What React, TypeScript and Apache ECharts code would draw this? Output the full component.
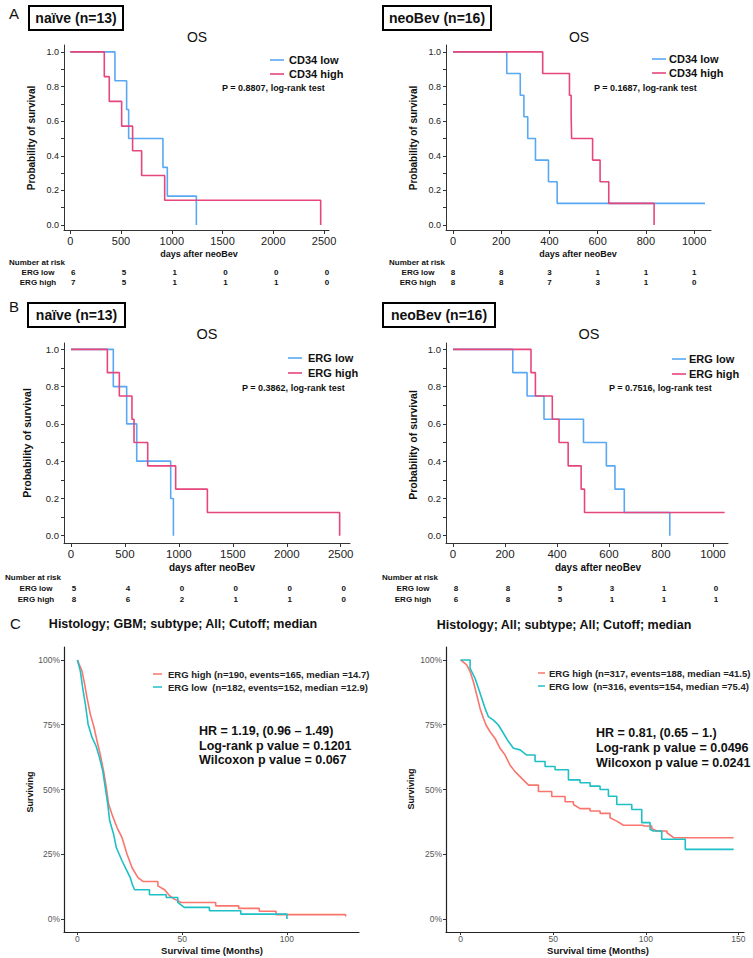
import { useEffect, useRef } from 'react';
import * as echarts from 'echarts';

const FONT = '"Liberation Sans", Arial, Helvetica, sans-serif';
const BLUE = '#58a8f4';
const RED = '#e5467b';
const C_RED = '#f8766d';
const C_TEAL = '#1fbfc6';

// ---------- Panel A (CD34) : Kaplan-Meier steps (days, survival) ----------
const aNaiveLowT = [0, 440, 555, 575, 913, 956, 1242];
const aNaiveLowS = [1, 0.833, 0.667, 0.5, 0.333, 0.167, 0];
const aNaiveHighT = [0, 335, 384, 506, 614, 703, 930, 2467];
const aNaiveHighS = [1, 0.857, 0.714, 0.571, 0.429, 0.286, 0.143, 0];
const aBevLowT = [0, 223, 279, 294, 310, 342, 396, 432, 1045];
const aBevLowS = [1, 0.875, 0.75, 0.625, 0.5, 0.375, 0.25, 0.125, 0.125];
const aBevHighT = [0, 372, 483, 490, 492, 579, 610, 646, 834];
const aBevHighS = [1, 0.875, 0.75, 0.625, 0.5, 0.375, 0.25, 0.125, 0];

// ---------- Panel B (ERG) ----------
const bNaiveLowT = [0, 392, 516, 609, 924, 949];
const bNaiveLowS = [1, 0.8, 0.6, 0.4, 0.2, 0];
const bNaiveHighT = [0, 337, 448, 565, 584, 711, 970, 1264, 2490];
const bNaiveHighS = [1, 0.875, 0.75, 0.625, 0.5, 0.375, 0.25, 0.125, 0];
const bBevLowT = [0, 230, 285, 350, 502, 590, 623, 659, 834];
const bBevLowS = [1, 0.875, 0.75, 0.625, 0.5, 0.375, 0.25, 0.125, 0];
const bBevHighT = [0, 300, 317, 382, 408, 443, 493, 506, 1045];
const bBevHighS = [1, 0.875, 0.75, 0.625, 0.5, 0.375, 0.25, 0.125, 0.125];

// ---------- Number at risk ----------
const naiveRiskTimes = [0, 500, 1000, 1500, 2000, 2500];
const bevRiskTimes = [0, 200, 400, 600, 800, 1000];
const aNaiveRiskLow = [6, 5, 1, 0, 0, 0];
const aNaiveRiskHigh = [7, 5, 1, 1, 1, 0];
const aBevRiskLow = [8, 8, 3, 1, 1, 1];
const aBevRiskHigh = [8, 8, 7, 3, 1, 0];
const bNaiveRiskLow = [5, 4, 0, 0, 0, 0];
const bNaiveRiskHigh = [8, 6, 2, 1, 1, 0];
const bBevRiskLow = [8, 8, 5, 3, 1, 0];
const bBevRiskHigh = [6, 8, 5, 1, 1, 1];

// ---------- Panel C (months, % surviving) ----------
const cGbmHighT = [0, 2.2, 3.5, 4.6, 6.2, 7.8, 9.4, 10.9, 12.5, 13.8, 14.9, 16.5, 18.9, 21.3, 23.7, 26.1, 28.9, 31.3, 38.4, 41.6, 44, 46.3, 49.5, 66, 77, 86.8, 94.8, 128];
const cGbmHighS = [100, 95.7, 90.5, 85.4, 78.9, 74.4, 68.6, 63.5, 57.1, 50.7, 44.3, 40.4, 35.3, 31.4, 25, 19.8, 16, 14.5, 12.8, 11.3, 9, 7.7, 6.4, 5.1, 4.1, 3, 1.7, 1.0];
const cGbmLowT = [0, 1.4, 2.5, 3.8, 5.1, 7, 8.9, 10.5, 12.1, 13.3, 14.5, 15.4, 17.3, 18.6, 21.3, 23.7, 25.2, 26.2, 27.3, 34.4, 42.4, 47.9, 51, 63, 78, 100];
const cGbmLowS = [100, 95.7, 89.3, 82.9, 75.2, 70.1, 66.8, 62.4, 57.2, 50.7, 44.3, 37.9, 32.7, 27.5, 22.5, 18.5, 16, 13.4, 11.3, 9.4, 8.3, 6.4, 4.5, 3.2, 1.9, 0];
const cAllHighT = [0, 3.3, 5.1, 6.9, 8.7, 10.5, 12.3, 13.7, 15.9, 18.6, 21.3, 24, 26.7, 29.4, 33, 36.7, 42, 49.2, 56.4, 60.9, 64.5, 69.9, 75.3, 80.7, 84.3, 87.9, 98.7, 103.2, 106, 111.4, 115, 147.4];
const cAllHighS = [100, 98.1, 95.5, 91.6, 86.5, 81.3, 77.5, 74.9, 72.3, 69.7, 65.9, 63.3, 59.4, 56.9, 54.3, 51.7, 49.2, 47.3, 45.3, 44.2, 42.6, 41.7, 40.8, 39.1, 37.8, 36.2, 35.9, 34.9, 34, 33.3, 31.4, 31.4];
const cAllLowT = [0, 5.1, 7.8, 9.6, 11.4, 13.2, 15, 17.7, 20.4, 23.1, 25.8, 28.5, 32.1, 35.7, 40.2, 45.6, 51, 58.2, 64.5, 69.9, 75.3, 79.8, 84.3, 92.4, 97.8, 102.3, 104.1, 108.6, 121.3, 147.4];
const cAllLowS = [100, 96.8, 92.9, 89.1, 85.2, 81.3, 78.1, 76.8, 74.9, 71.7, 68.5, 65.9, 65.3, 63.3, 60.8, 58.9, 57.6, 53.7, 52.6, 51.3, 50, 47.4, 44.2, 42.3, 37.2, 34.6, 34, 30.8, 26.9, 26.9];

// ---------- Tick labels ----------
const naiveTicks = [0, 500, 1000, 1500, 2000, 2500];
const bevTicks = [0, 200, 400, 600, 800, 1000];
const probTicks = [0, 0.1, 0.2, 0.3, 0.4, 0.5, 0.6, 0.7, 0.8, 0.9, 1.0];
const probLabels = [0, 0.2, 0.4, 0.6, 0.8, 1.0];
const survTicks = [0, 25, 50, 75, 100];
const gbmMonthTicks = [0, 50, 100];
const allMonthTicks = [0, 50, 100, 150];

const zip = (t: number[], s: number[]) => t.map((v, i) => [v, s[i]]);

// dense KM curves: consecutive events close together are joined directly,
// long event-free stretches are drawn as a flat run followed by a drop.
const kmPath = (t: number[], s: number[], gap: number) => {
  const pts: number[][] = [[t[0], s[0]]];
  for (let i = 1; i < t.length; i++) {
    if (t[i] - t[i - 1] > gap) pts.push([t[i], s[i - 1]]);
    pts.push([t[i], s[i]]);
  }
  return pts;
};

type Txt = { bold?: boolean; color?: string; align?: string; rot?: number };
const txt = (text: string, x: number, y: number, size: number, o: Txt = {}) => ({
  type: 'text',
  x,
  y,
  rotation: o.rot || 0,
  silent: true,
  style: {
    text,
    fontSize: size,
    fontWeight: o.bold ? 'bold' : 'normal',
    fontFamily: FONT,
    fill: o.color || '#111',
    textAlign: o.align || 'left',
    textVerticalAlign: 'middle',
  },
});
const seg = (x1: number, y1: number, x2: number, y2: number, color: string, w = 1.6) => ({
  type: 'line',
  silent: true,
  shape: { x1, y1, x2, y2 },
  style: { stroke: color, lineWidth: w },
});
const box = (x: number, y: number, w: number, h: number) => ({
  type: 'rect',
  silent: true,
  shape: { x, y, width: w, height: h },
  style: { fill: 'none', stroke: '#000', lineWidth: 2 },
});

export default function App() {
  const ref = useRef<HTMLDivElement>(null);

  useEffect(() => {
    if (!ref.current) return;
    const chart = echarts.init(ref.current, undefined, { renderer: 'svg' });

    const kmPanels = [
      { grid: { left: 64, top: 45, width: 265, height: 185 }, x: [-62, 2549], y: [-0.029, 1.04], ticks: naiveTicks, xf: 11, yf: 9, low: [aNaiveLowT, aNaiveLowS], high: [aNaiveHighT, aNaiveHighS], names: ['CD34 low', 'CD34 high'] },
      { grid: { left: 446, top: 45, width: 265, height: 185 }, x: [-29, 1070], y: [-0.029, 1.04], ticks: bevTicks, xf: 11, yf: 9, low: [aBevLowT, aBevLowS], high: [aBevHighT, aBevHighS], names: ['CD34 low', 'CD34 high'] },
      { grid: { left: 64, top: 343, width: 286, height: 200 }, x: [-65, 2586], y: [-0.039, 1.034], ticks: naiveTicks, xf: 11.5, yf: 9.5, low: [bNaiveLowT, bNaiveLowS], high: [bNaiveHighT, bNaiveHighS], names: ['ERG low', 'ERG high'] },
      { grid: { left: 446, top: 343, width: 282, height: 200 }, x: [-27, 1058], y: [-0.039, 1.034], ticks: bevTicks, xf: 11.5, yf: 9.5, low: [bBevLowT, bBevLowS], high: [bBevHighT, bBevHighS], names: ['ERG low', 'ERG high'] },
    ];
    const cPanels = [
      { grid: { left: 64, top: 647, width: 295, height: 285 }, x: [-6.4, 134.4], ticks: gbmMonthTicks, high: [cGbmHighT, cGbmHighS], low: [cGbmLowT, cGbmLowS] },
      { grid: { left: 446, top: 647, width: 298, height: 285 }, x: [-7.9, 153], ticks: allMonthTicks, high: [cAllHighT, cAllHighS], low: [cAllLowT, cAllLowS] },
    ];

    const grids: any[] = [];
    const xAxes: any[] = [];
    const yAxes: any[] = [];
    const series: any[] = [];

    kmPanels.forEach((p, i) => {
      grids.push({ ...p.grid, containLabel: false });
      xAxes.push({
        type: 'value', gridIndex: i, min: p.x[0], max: p.x[1],
        axisLine: { show: true, onZero: false, lineStyle: { color: '#333', width: 1 } },
        axisTick: { show: true, customValues: p.ticks, length: 4, lineStyle: { color: '#333', width: 1 } },
        axisLabel: { customValues: p.ticks, fontSize: p.xf, color: '#222', fontFamily: FONT, margin: 5, formatter: (v: number) => String(v) },
        splitLine: { show: false },
      });
      yAxes.push({
        type: 'value', gridIndex: i, min: p.y[0], max: p.y[1],
        axisLine: { show: true, onZero: false, lineStyle: { color: '#333', width: 1 } },
        axisTick: { show: true, customValues: probTicks, length: 3, lineStyle: { color: '#333', width: 1 } },
        axisLabel: { customValues: probLabels, fontSize: p.yf, color: '#222', fontFamily: FONT, margin: 5, formatter: (v: number) => v.toFixed(1) },
        splitLine: { show: false },
      });
      series.push({
        name: p.names[0], type: 'line', step: 'end', xAxisIndex: i, yAxisIndex: i,
        data: zip(p.low[0], p.low[1]), showSymbol: false, symbol: 'none',
        lineStyle: { color: BLUE, width: 1.6 }, itemStyle: { color: BLUE }, silent: true,
      });
      series.push({
        name: p.names[1], type: 'line', step: 'end', xAxisIndex: i, yAxisIndex: i,
        data: zip(p.high[0], p.high[1]), showSymbol: false, symbol: 'none',
        lineStyle: { color: RED, width: 1.6 }, itemStyle: { color: RED }, silent: true,
      });
    });

    cPanels.forEach((p, j) => {
      const i = j + 4;
      grids.push({ ...p.grid, containLabel: false });
      xAxes.push({
        type: 'value', gridIndex: i, min: p.x[0], max: p.x[1],
        axisLine: { show: true, onZero: false, lineStyle: { color: '#222', width: 1.2 } },
        axisTick: { show: true, customValues: p.ticks, length: 3, lineStyle: { color: '#333', width: 1 } },
        axisLabel: { customValues: p.ticks, fontSize: 8.5, color: '#555', fontFamily: FONT, margin: 2, formatter: (v: number) => String(v) },
        splitLine: { show: false },
      });
      yAxes.push({
        type: 'value', gridIndex: i, min: -5, max: 105,
        axisLine: { show: true, onZero: false, lineStyle: { color: '#222', width: 1.2 } },
        axisTick: { show: true, customValues: survTicks, length: 3, lineStyle: { color: '#333', width: 1 } },
        axisLabel: { customValues: survTicks, fontSize: 8.5, color: '#555', fontFamily: FONT, margin: 4, formatter: (v: number) => v + '%' },
        splitLine: { show: false },
      });
      series.push({
        name: 'ERG high', type: 'line', xAxisIndex: i, yAxisIndex: i,
        data: kmPath(p.high[0], p.high[1], 3.9), showSymbol: false, symbol: 'none',
        lineStyle: { color: C_RED, width: 1.6 }, itemStyle: { color: C_RED }, silent: true,
      });
      series.push({
        name: 'ERG low', type: 'line', xAxisIndex: i, yAxisIndex: i,
        data: kmPath(p.low[0], p.low[1], 3.9), showSymbol: false, symbol: 'none',
        lineStyle: { color: C_TEAL, width: 1.6 }, itemStyle: { color: C_TEAL }, silent: true,
      });
    });

    chart.setOption({
      animation: false,
      backgroundColor: '#fff',
      grid: grids,
      xAxis: xAxes,
      yAxis: yAxes,
      series,
    });

    const g: any[] = [];
    // panel letters
    g.push(txt('A', 9, 13, 15));
    g.push(txt('B', 9, 306, 15));
    g.push(txt('C', 10, 623, 15));
    // group boxes
    g.push(box(29, 6, 94, 24), txt('naïve (n=13)', 76, 18, 14, { bold: true, align: 'center' }));
    g.push(box(383, 6, 108, 24), txt('neoBev (n=16)', 437, 18, 14, { bold: true, align: 'center' }));
    g.push(box(28, 303, 97, 24), txt('naïve (n=13)', 76.5, 315, 14, { bold: true, align: 'center' }));
    g.push(box(383, 303, 112, 24), txt('neoBev (n=16)', 439, 315, 14, { bold: true, align: 'center' }));
    // OS titles
    g.push(txt('OS', 197, 37, 14, { align: 'center' }));
    g.push(txt('OS', 579, 37, 14, { align: 'center' }));
    g.push(txt('OS', 207, 334, 14.5, { align: 'center' }));
    g.push(txt('OS', 589, 334, 14.5, { align: 'center' }));

    // KM legends + p values
    const legs = [
      { lx: 270, tx: 289, y1: 60, y2: 74, n: ['CD34 low', 'CD34 high'], p: 'P = 0.8807, log-rank test', px: 222, py: 88 },
      { lx: 652, tx: 669, y1: 59, y2: 73, n: ['CD34 low', 'CD34 high'], p: 'P = 0.1687, log-rank test', px: 594, py: 88 },
      { lx: 288, tx: 308, y1: 358, y2: 373, n: ['ERG low', 'ERG high'], p: 'P = 0.3862, log-rank test', px: 242, py: 388 },
      { lx: 672, tx: 689, y1: 359, y2: 374, n: ['ERG low', 'ERG high'], p: 'P = 0.7516, log-rank test', px: 609, py: 388 },
    ];
    legs.forEach((l) => {
      g.push(seg(l.lx, l.y1, l.lx + 14, l.y1, BLUE), txt(l.n[0], l.tx, l.y1, 11, { bold: true }));
      g.push(seg(l.lx, l.y2, l.lx + 14, l.y2, RED), txt(l.n[1], l.tx, l.y2, 11, { bold: true }));
      g.push(txt(l.p, l.px, l.py, 9, { bold: true }));
    });

    // KM axis titles
    const kmTitles = [
      { xx: 199, xy: 254, yx: 31, yy: 138, f: 9, fy: 10 },
      { xx: 578, xy: 254, yx: 413, yy: 138, f: 9, fy: 10 },
      { xx: 212, xy: 567, yx: 27, yy: 443, f: 10, fy: 10.5 },
      { xx: 598, xy: 567, yx: 413, yy: 445, f: 10, fy: 10.5 },
    ];
    kmTitles.forEach((t) => {
      g.push(txt('days after neoBev', t.xx, t.xy, t.f, { bold: true, align: 'center' }));
      g.push(txt('Probability of survival', t.yx, t.yy, t.fy, { bold: true, align: 'center', rot: Math.PI / 2 }));
    });

    // Number at risk tables
    const risks = [
      { axis: 0, times: naiveRiskTimes, low: aNaiveRiskLow, high: aNaiveRiskHigh, hx: 9, lab: 38, y0: 262, y1: 272, y2: 282, off: 3 },
      { axis: 1, times: bevRiskTimes, low: aBevRiskLow, high: aBevRiskHigh, hx: 389, lab: 418, y0: 262, y1: 272, y2: 282, off: 0 },
      { axis: 2, times: naiveRiskTimes, low: bNaiveRiskLow, high: bNaiveRiskHigh, hx: 5, lab: 36, y0: 577, y1: 588, y2: 599, off: 3 },
      { axis: 3, times: bevRiskTimes, low: bBevRiskLow, high: bBevRiskHigh, hx: 382, lab: 413, y0: 577, y1: 588, y2: 599, off: 3 },
    ];
    risks.forEach((r) => {
      g.push(txt('Number at risk', r.hx, r.y0, 8, { bold: true }));
      g.push(txt('ERG low', r.lab, r.y1, 8, { bold: true, align: 'center' }));
      g.push(txt('ERG high', r.lab, r.y2, 8, { bold: true, align: 'center' }));
      r.times.forEach((t, k) => {
        const px = (chart.convertToPixel({ xAxisIndex: r.axis } as any, t) as unknown as number) + r.off;
        g.push(txt(String(r.low[k]), px, r.y1, 8, { bold: true, align: 'center' }));
        g.push(txt(String(r.high[k]), px, r.y2, 8, { bold: true, align: 'center' }));
      });
    });

    // Panel C texts
    g.push(txt('Histology; GBM; subtype; All; Cutoff; median', 183, 624, 12.5, { bold: true, align: 'center' }));
    g.push(txt('Histology; All; subtype; All; Cutoff; median', 564, 625, 12.5, { bold: true, align: 'center' }));
    g.push(seg(153, 674, 162, 674, C_RED, 1.5), txt('ERG high (n=190, events=165, median =14.7)', 168, 674, 9.5, { bold: true, color: '#222' }));
    g.push(seg(153, 687, 162, 687, C_TEAL, 1.5), txt('ERG low\u00a0\u00a0(n=182, events=152, median =12.9)', 168, 687, 9.5, { bold: true, color: '#222' }));
    g.push(seg(538, 673, 545, 673, C_RED, 1.5), txt('ERG high (n=317, events=188, median =41.5)', 549, 673, 9.5, { bold: true, color: '#222' }));
    g.push(seg(538, 686, 545, 686, C_TEAL, 1.5), txt('ERG low\u00a0\u00a0(n=316, events=154, median =75.4)', 549, 686, 9.5, { bold: true, color: '#222' }));
    g.push(txt('HR = 1.19, (0.96 – 1.49)', 199, 731, 12.5, { bold: true }));
    g.push(txt('Log-rank p value = 0.1201', 199, 746, 12.5, { bold: true }));
    g.push(txt('Wilcoxon p value = 0.067', 199, 760, 12.5, { bold: true }));
    g.push(txt('HR = 0.81, (0.65 – 1.)', 596, 733, 12.5, { bold: true }));
    g.push(txt('Log-rank p value = 0.0496', 596, 748, 12.5, { bold: true }));
    g.push(txt('Wilcoxon p value = 0.0241', 596, 763, 12.5, { bold: true }));
    g.push(txt('Surviving', 30, 792, 9, { bold: true, align: 'center', rot: Math.PI / 2 }));
    g.push(txt('Surviving', 411, 789, 9, { bold: true, align: 'center', rot: Math.PI / 2 }));
    g.push(txt('Survival time (Months)', 212, 950, 9.5, { bold: true, align: 'center' }));
    g.push(txt('Survival time (Months)', 598, 950, 9.5, { bold: true, align: 'center' }));

    chart.setOption({ graphic: g });

    return () => chart.dispose();
  }, []);

  return (
    <div
      ref={ref}
      style={{ position: 'absolute', left: 0, top: 0, width: 753, height: 958, background: '#fff' }}
    />
  );
}
